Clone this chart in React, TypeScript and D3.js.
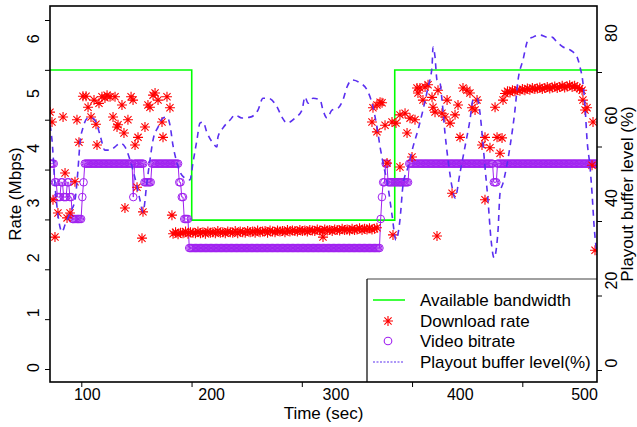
import React, { useEffect, useRef } from 'react';
import * as d3 from 'd3';

const WIDTH = 637;
const HEIGHT = 427;
const PLOT = { left: 50, right: 597, top: 6, bottom: 382 };
const FONT = '"Liberation Sans", Arial, Helvetica, sans-serif';
const BUFFER_COLOR = '#5a2ff0';
const BITRATE_COLOR = '#a020f0';

// available bandwidth (Mbps), step changes
const bwTime = [70, 184, 347.3, 510];
const bwRate = [5.43, 2.69, 5.43, 5.43];

// video bitrate runs: [from sec, to sec, Mbps]
const bitrateRuns = [
    [70, 73, 3.72], [74, 75, 3.38], [76, 78, 3.11], [79, 80, 3.38], [81, 83, 3.11],
    [84, 85, 3.38], [86, 87, 3.11], [88, 95, 2.71], [96, 96, 3.11], [97, 97, 3.38],
    [98, 136, 3.72], [137, 137, 3.11], [138, 145, 3.72], [146, 151, 3.38], [152, 173, 3.72],
    [174, 175, 3.38], [176, 177, 3.11], [178, 181, 2.71], [182, 335, 2.18], [336, 336, 2.71],
    [337, 337, 3.11], [338, 339, 3.38], [340, 341, 3.72], [342, 358, 3.38], [359, 426, 3.72],
    [427, 429, 3.38], [430, 510, 3.72],
];

// download rate, scattered samples
const dlTime = [
    70, 71.6, 80.5, 91.7, 93.3, 96.5, 99, 100.6, 103, 105.4, 107, 107.8, 109.4, 111.8, 114.2,
    115.9, 118.3, 120.7, 122.3, 123.9, 124.7, 127.9, 129.5, 132.7, 135.2, 136.8, 138.4, 140,
    140.8, 146.4, 148.8, 150.4, 152.9, 154.5, 156.9, 160.1, 160.9, 164.1, 166.5,
    72.4, 76.4, 74, 82.1, 83.7, 86.1, 90.1, 130.3, 144, 144.8, 168.1, 289.6,
    329.8, 333, 335.5, 337.1, 329, 333, 339.5, 345.1, 348.3, 351.5, 355.6, 359.6, 363.6, 357.2,
    365.2, 366, 341.1, 351.5, 361.2, 345.9,
    367.6, 371.7, 374.1, 370, 377.3, 378.1, 379.7, 382.1, 385.3, 387.7, 389.4, 391.8, 395.8,
    398.2, 399.8, 393.4, 402.2, 405.4, 407.8, 409.5, 411.9, 413.5, 417.5, 419.9, 423.9, 429.6,
    432, 433.6, 428, 434.4, 419.9, 381.3,
    498.7, 502, 500.4, 506.8, 506, 508.4,
];
const dlRate = [
    4.66, 4.48, 4.57, 4.52, 4.11, 4.95, 4.95, 4.75, 4.57, 4.88, 4.44, 4.06, 4.82, 4.94, 4.92,
    4.97, 4.94, 4.57, 4.94, 4.39, 4.43, 4.79, 4.28, 4.52, 4.94, 4.88, 4.06, 3.29,
    4.2, 4.39, 4.79, 4.75, 4.97, 5.01, 4.88, 4.48, 4.2, 4.94, 4.74,
    3.06, 2.82, 2.38, 3.55, 2.73, 2.82, 3.39, 2.91, 2.36, 2.84, 2.78, 2.38,
    4.74, 4.79, 4.84, 4.83, 4.48, 4.3, 4.42, 4.48, 4.46, 4.61, 4.64, 4.55, 4.52, 4.28,
    5.1, 5.01, 3.73, 3.66, 3.84, 2.42,
    5.1, 5.12, 5.16, 4.88, 4.93, 4.75, 4.66, 5.06, 4.64, 4.57, 4.88, 4.46, 4.61,
    4.79, 4.2, 3.18, 5.1, 5.06, 5.01, 4.74, 4.7, 4.88, 4.06, 4.2, 4.01, 4.2,
    3.91, 4.19, 4.75, 4.88, 3.06, 2.4,
    4.88, 4.74, 4.7, 4.48, 3.69, 2.14,
];

// download rate while bandwidth is low, one sample every 2 s from 169 s
const midStart = 169;
const midRate = [
    2.44, 2.47, 2.43, 2.46, 2.45, 2.48, 2.44, 2.47, 2.46, 2.45,
    2.48, 2.45, 2.47, 2.44, 2.48, 2.46, 2.47, 2.45, 2.49, 2.46,
    2.47, 2.45, 2.48, 2.47, 2.46, 2.49, 2.45, 2.48, 2.47, 2.46,
    2.49, 2.47, 2.48, 2.46, 2.5, 2.47, 2.48, 2.49, 2.46, 2.5,
    2.48, 2.47, 2.5, 2.48, 2.49, 2.47, 2.51, 2.48, 2.5, 2.49,
    2.48, 2.51, 2.49, 2.5, 2.48, 2.51, 2.5, 2.49, 2.52, 2.5,
    2.49, 2.52, 2.5, 2.51, 2.49, 2.52, 2.51, 2.5, 2.53, 2.51,
    2.52, 2.5, 2.53, 2.51, 2.52, 2.54, 2.51, 2.53, 2.52, 2.54,
    2.52, 2.53, 2.55,
];

// download rate near the end, one sample every 2 s from 436 s
const endStart = 436;
const endRate = [
    5.0, 5.04, 5.02, 5.06, 5.04, 5.07, 5.05, 5.08, 5.06, 5.09,
    5.07, 5.1, 5.08, 5.09, 5.11, 5.08, 5.1, 5.12, 5.09, 5.11,
    5.13, 5.1, 5.12, 5.14, 5.11, 5.13, 5.15, 5.12, 5.14, 5.11,
    5.09, 5.06,
];

// playout buffer level (%)
const bufTime = [
    70, 71.6, 74, 76.4, 79.7, 82.1, 86.1, 90.1, 92.5, 94.1, 96.5, 100.6, 103.8, 107, 110.2,
    114.2, 118.3, 122.3, 126.3, 130.3, 134.4, 138.4, 142.4, 144.8, 148, 150.4, 152.9, 156.9,
    160.9, 164.1, 166.5, 168.9, 172.2, 174.6, 178.6, 182.6, 185, 188.2, 190.7, 193.1, 196.3,
    201.1, 204.3, 205.1, 209.2, 214.8, 218.8, 224.4, 230.9, 237.3, 241.3, 245.4, 252.6, 256.6,
    260.6, 267.1, 272.7, 275.1, 277.5, 281.6, 287.2, 289.6, 292.8, 296.8, 301.7, 305.7, 308.9,
    312.9, 319.4, 325, 329, 333, 335.5, 337.9, 341.9, 345.1, 348.3, 351.5, 354, 358, 362, 366,
    370, 374.1, 377.3, 378.1, 379.7, 381.3, 383.7, 385.3, 387.7, 390.2, 393.4, 395.8, 399.8,
    403.8, 407.8, 410.3, 413.5, 415.9, 417.5, 419.9, 422.3, 424.8, 427.2, 430.4, 432, 434.4,
    440, 444, 446.5, 450.5, 454.5, 458.5, 464.2, 469.8, 473.8, 477.8, 482.7, 488.3, 493.9,
    496.3, 498.7, 500.4, 502, 504.4, 506, 507.6, 510,
];
const bufPct = [
    57.7, 54.1, 43.2, 35.9, 31.8, 33.5, 36.4, 39.5, 46.8, 53.3, 57, 59.4, 59.4, 58.4, 55.3,
    51.6, 51.6, 52.4, 53.3, 52.4, 49.2, 44.8, 39.5, 36.6, 43.9, 49.2, 54.1, 57.2,
    59.4, 59.6, 57.7, 52.8, 48.5, 46.3, 44.8, 44.4, 48.5, 54.1, 58.2, 58.4, 55.8,
    53.3, 52.4, 54.8, 57, 58.9, 60.1, 59.4, 59.6, 61.3, 64.2, 64.2, 62.1, 59.6,
    58.2, 59.4, 61.3, 64.5, 63, 64.2, 63.8, 61.3, 59.4, 61.3, 61.8, 63.8, 66.9,
    68.6, 67.9, 66.2, 63, 57.2, 52.4, 48.5, 42.7, 35.9, 29.8, 34.7, 43.2, 47.5, 52.4, 56.5,
    61.3, 66.9, 71.8, 76.6, 74.2, 68.6, 67.9, 63.8, 55.8, 49.2, 42.7, 40, 46.1,
    52.4, 58.9, 63.8, 64.2, 60.6, 55.8, 47.5, 39.5, 29.8, 25.5, 32.2, 41.2, 43.6,
    52.4, 61.3, 68.6, 73.5, 78.3, 79, 79.5, 79, 79, 77.8, 76.6, 75.9, 74.2,
    71.8, 67.9, 62.1, 54.1, 47.5, 41.2, 33.5, 26.2,
];

const timeLabels = [100, 200, 300, 400, 500];
const rateLabels = [0, 1, 2, 3, 4, 5, 6];
const bufferLabels = [0, 20, 40, 60, 80];

const legendItems = ['Available bandwidth', 'Download rate', 'Video bitrate', 'Playout buffer level(%)'];

const STAR = 'M-5,0H5M0,-5V5M-3.6,-3.6L3.6,3.6M-3.6,3.6L3.6,-3.6';

const App = () => {
    const xTicksRef = useRef(null);
    const yTicksRef = useRef(null);
    const y2TicksRef = useRef(null);

    // data scales (match the printed labels)
    const xScale = d3.scaleLinear().domain([70, 510]).range([PLOT.left, PLOT.right]);
    const yScale = d3.scaleLinear().domain([0, 6]).range([367.5, 38.7]);
    const y2Scale = d3.scaleLinear().domain([0, 80]).range([363, 33]);

    // the tick marks in the source figure sit off their labels
    const xTickScale = d3.scaleLinear().domain([100, 500]).range([81.3, 522.3]);
    const yTickScale = d3.scaleLinear().domain([0, 7]).range([369, 20]);
    const y2TickScale = d3.scaleLinear().domain([0, 80]).range([370, 72]);

    const bwLine = d3.line()
        .x((d, i) => xScale(bwTime[i]))
        .y((d, i) => yScale(bwRate[i]))
        .curve(d3.curveStepAfter);

    const bitrate = bitrateRuns.flatMap(([a, b, v]) => d3.range(a, b + 1).map(t => ({ t, v })));
    const bitrateLine = d3.line()
        .x(d => xScale(d.t))
        .y(d => yScale(d.v));

    const downloads = [
        ...dlTime.map((t, i) => ({ t, v: dlRate[i] })),
        ...midRate.map((v, i) => ({ t: midStart + i * 2, v })),
        ...endRate.map((v, i) => ({ t: endStart + i * 2, v })),
    ];

    const bufLine = d3.line()
        .x((d, i) => xScale(bufTime[i]))
        .y((d, i) => y2Scale(bufPct[i]))
        .curve(d3.curveMonotoneX);

    useEffect(() => {
        document.body.style.margin = '0';
        d3.select(xTicksRef.current)
            .call(d3.axisBottom(xTickScale).tickValues(timeLabels).tickSize(5).tickFormat(() => ''))
            .call(g => g.select('.domain').remove());
        d3.select(yTicksRef.current)
            .call(d3.axisLeft(yTickScale).tickValues(d3.range(0, 8)).tickSize(5).tickFormat(() => ''))
            .call(g => g.select('.domain').remove());
        d3.select(y2TicksRef.current)
            .call(d3.axisRight(y2TickScale).tickValues(bufferLabels).tickSize(5).tickFormat(() => ''))
            .call(g => g.select('.domain').remove());
    }, []);

    const legendX = 367;
    const legendY = 279;
    const rowY = [300, 321, 341, 362];

    return (
        <svg width={WIDTH} height={HEIGHT} style={{ position: 'absolute', left: 0, top: 0, background: '#fff' }}
            fontFamily={FONT}>
            <defs>
                <clipPath id="plot-clip">
                    <rect x={PLOT.left} y={PLOT.top} width={PLOT.right - PLOT.left} height={PLOT.bottom - PLOT.top} />
                </clipPath>
            </defs>
            <g clipPath="url(#plot-clip)">
                <path d={bwLine(bwTime) || ''} fill="none" stroke="#00ff00" strokeWidth={1.6} />
                <path d={bitrateLine(bitrate) || ''} fill="none" stroke={BITRATE_COLOR} strokeWidth={1} />
                {bitrate.map((d, i) =>
                    <circle key={i} cx={xScale(d.t)} cy={yScale(d.v)} r={3.8} fill="none" stroke={BITRATE_COLOR} strokeWidth={1} />
                )}
                {downloads.map((d, i) =>
                    <path key={i} d={STAR} transform={`translate(${xScale(d.t)},${yScale(d.v)})`} stroke="#ff0000" strokeWidth={1.1} fill="none" />
                )}
                <path d={bufLine(bufTime) || ''} fill="none" stroke={BUFFER_COLOR} strokeWidth={1.6} strokeDasharray="6,5" />
            </g>

            {/* legend */}
            <rect x={legendX} y={legendY} width={PLOT.right - legendX} height={PLOT.bottom - legendY} fill="#fff" stroke="none" />
            <line x1={legendX} x2={PLOT.right} y1={legendY} y2={legendY} stroke="#808080" strokeWidth={1.5} />
            <line x1={legendX} x2={legendX} y1={legendY} y2={PLOT.bottom} stroke="#000" strokeWidth={1.2} />
            <line x1={373} x2={405} y1={rowY[0]} y2={rowY[0]} stroke="#00ff00" strokeWidth={1.5} />
            <path d={STAR} transform={`translate(388,${rowY[1]})`} stroke="#ff0000" strokeWidth={1.1} fill="none" />
            <circle cx={388} cy={rowY[2]} r={3.8} fill="none" stroke={BITRATE_COLOR} strokeWidth={1.1} />
            <line x1={373} x2={403} y1={rowY[3]} y2={rowY[3]} stroke={BUFFER_COLOR} strokeWidth={1.2} strokeDasharray="2,1.5" />
            {legendItems.map((s, i) =>
                <text key={s} x={420} y={rowY[i]} dy="0.35em" fontSize={17} fill="#000">{s}</text>
            )}

            <rect x={PLOT.left} y={PLOT.top} width={PLOT.right - PLOT.left} height={PLOT.bottom - PLOT.top}
                fill="none" stroke="#000" strokeWidth={1.6} />

            <g ref={xTicksRef} transform={`translate(0,${PLOT.bottom})`} />
            <g ref={yTicksRef} transform={`translate(${PLOT.left},0)`} />
            <g ref={y2TicksRef} transform={`translate(${PLOT.right},0)`} />

            {timeLabels.map(v =>
                <text key={v} x={xScale(v)} y={400} textAnchor="middle" fontSize={16} fill="#000">{v}</text>
            )}
            {rateLabels.map(v =>
                <text key={v} transform={`translate(33,${yScale(v)}) rotate(-90)`} textAnchor="middle" dy="0.36em" fontSize={16} fill="#000">{v}</text>
            )}
            {bufferLabels.map(v =>
                <text key={v} transform={`translate(611,${y2Scale(v)}) rotate(-90)`} textAnchor="middle" dy="0.36em" fontSize={16} fill="#000">{v}</text>
            )}

            <text x={(PLOT.left + PLOT.right) / 2} y={419} textAnchor="middle" fontSize={17} fill="#000">Time (sec)</text>
            <text transform={`translate(15,${(PLOT.top + PLOT.bottom) / 2}) rotate(-90)`} textAnchor="middle" dy="0.35em" fontSize={17} fill="#000">Rate (Mbps)</text>
            <text transform={`translate(627,${(PLOT.top + PLOT.bottom) / 2}) rotate(-90)`} textAnchor="middle" dy="0.35em" fontSize={17} fill="#000">Playout buffer level (%)</text>
        </svg>
    );
};

export default App;
